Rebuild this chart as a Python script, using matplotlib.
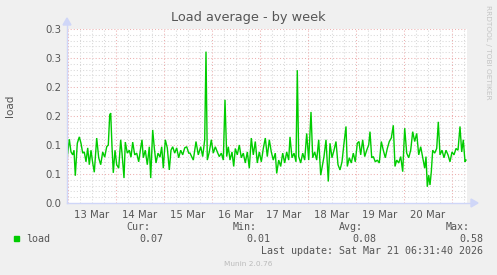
import matplotlib
matplotlib.use('Agg')
import matplotlib.pyplot as plt
from matplotlib.lines import Line2D
from matplotlib.patches import Polygon
import numpy as np

# ---- data (hours since 13 Mar 00:00, load values) ----
hours = [-0.65, 0.65, 1.5, 2.35, 3, 3.65, 4.65, 5.65, 6.5, 7.35, 8.15, 9, 9.85, 10.65, 11.5, 12.35,
         13.15, 14.35, 15.35, 16.35, 17.35, 18.35, 19.35, 20.15, 20.85, 21.35, 22, 22.65, 23.5, 24.35,
         25.35, 26.35, 27, 28, 28.65, 29.65, 30.65, 31.5, 32.35, 33.35, 34.35, 35.35, 36.35, 37, 37.65,
         38.65, 39.65, 40.65, 41.35, 42.35, 43.15, 44, 45, 46, 46.85, 47.65, 48.65, 49.65, 50.65, 51.5,
         52.35, 53.35, 54.35, 55.35, 56.35, 57.35, 58.35, 59.35, 60.35, 61, 62.65, 64, 65.15, 66.35,
         67.35, 68.35, 69, 69.65, 70.65, 71.65, 72.65, 73.65, 74.65, 75.65, 76.65, 77.65, 78.5, 79.35,
         80.15, 81, 82, 82.85, 83.65, 84.65, 85.65, 86.65, 87.65, 88.65, 89.65, 90.65, 91.65, 92.65,
         93.65, 94.65, 95.65, 96.65, 97.65, 98.65, 99.65, 100.65, 101.65, 102.65, 103.65, 104.35, 105.35,
         106.35, 107.35, 108.35, 109.35, 110.35, 111, 112, 113, 114, 114.65, 115.35, 116.35, 117.35,
         118.35, 119.35, 120.35, 121.5, 122.35, 123.35, 124.35, 125.35, 126.35, 128, 129, 130.15, 131,
         132, 133, 134, 135, 136, 137, 138, 139, 139.65, 140.65, 141.65, 142.65, 143.65, 144.65, 145.5,
         146.35, 147.35, 148.35, 149.35, 150.35, 151, 151.85, 152.65, 153.65, 154.65, 155.65, 156.65,
         157.65, 158.65, 159.65, 160.65, 161.65, 162.65, 163.5, 164.35, 165.35, 166.35, 167.35, 168.35,
         169.35, 170.35, 171.35, 172.35, 173.35, 174.35, 175.35, 176.35, 177.35, 178.35, 179, 179.65,
         180.35, 181, 181.65, 182.35, 183.35, 184.35, 185.15, 186, 187, 188, 189, 190, 191, 192, 193,
         194, 195, 196, 196.85, 197.65, 198.5, 199]
load = [0.071, 0.110, 0.088, 0.083, 0.091, 0.047, 0.103, 0.114, 0.103, 0.086, 0.088, 0.071, 0.095, 0.066,
        0.091, 0.069, 0.053, 0.112, 0.078, 0.066, 0.088, 0.079, 0.097, 0.100, 0.152, 0.155, 0.097, 0.052,
        0.091, 0.066, 0.060, 0.109, 0.086, 0.043, 0.105, 0.086, 0.091, 0.079, 0.105, 0.083, 0.086, 0.071,
        0.095, 0.109, 0.078, 0.091, 0.066, 0.097, 0.043, 0.126, 0.095, 0.069, 0.086, 0.079, 0.097, 0.060,
        0.109, 0.095, 0.057, 0.091, 0.097, 0.086, 0.095, 0.078, 0.091, 0.083, 0.095, 0.097, 0.086, 0.086,
        0.074, 0.106, 0.083, 0.097, 0.080, 0.109, 0.261, 0.074, 0.088, 0.109, 0.086, 0.097, 0.088, 0.080,
        0.086, 0.074, 0.178, 0.080, 0.097, 0.074, 0.088, 0.063, 0.094, 0.083, 0.100, 0.078, 0.086, 0.069,
        0.088, 0.060, 0.112, 0.083, 0.106, 0.069, 0.088, 0.071, 0.094, 0.112, 0.080, 0.109, 0.088, 0.074,
        0.086, 0.051, 0.074, 0.063, 0.086, 0.069, 0.088, 0.074, 0.114, 0.078, 0.086, 0.071, 0.229, 0.080,
        0.069, 0.086, 0.074, 0.120, 0.074, 0.157, 0.078, 0.088, 0.074, 0.109, 0.048, 0.080, 0.109, 0.037,
        0.103, 0.078, 0.091, 0.106, 0.066, 0.057, 0.071, 0.103, 0.132, 0.063, 0.078, 0.069, 0.086, 0.071,
        0.103, 0.106, 0.083, 0.109, 0.080, 0.091, 0.100, 0.123, 0.078, 0.080, 0.071, 0.074, 0.069, 0.106,
        0.091, 0.078, 0.094, 0.106, 0.112, 0.134, 0.063, 0.074, 0.069, 0.080, 0.054, 0.129, 0.086, 0.078,
        0.091, 0.123, 0.106, 0.120, 0.083, 0.097, 0.078, 0.060, 0.080, 0.028, 0.048, 0.031, 0.054, 0.091,
        0.086, 0.094, 0.140, 0.083, 0.091, 0.078, 0.091, 0.083, 0.071, 0.088, 0.083, 0.094, 0.091, 0.132,
        0.088, 0.109, 0.071, 0.074]

day_labels = ['13 Mar', '14 Mar', '15 Mar', '16 Mar', '17 Mar', '18 Mar', '19 Mar', '20 Mar']
y_ticks = [0.0, 0.05, 0.10, 0.15, 0.20, 0.25, 0.30]
y_tick_labels = ['0.0', '0.1', '0.1', '0.2', '0.2', '0.3', '0.3']
legend_name = 'load'
stats_names = ['Cur:', 'Min:', 'Avg:', 'Max:']
stats_values = ['0.07', '0.01', '0.08', '0.58']
title = 'Load average - by week'
last_update = 'Last update: Sat Mar 21 06:31:40 2026'

# ---- layout ----
W, H = 497, 275
BG = '#F0F0F0'
FONT = '#555555'
AXIS = '#CFD6F8'
GRID = '#D8D8D8'
MGRID = '#EDB0B0'
LINE = '#00CC00'

fig = plt.figure(figsize=(W / 100, H / 100), dpi=100, facecolor=BG)
L, T, R, B = 67, 29, 467, 203
ax = fig.add_axes([L / W, 1 - B / H, (R - L) / W, (B - T) / H])
ax.set_facecolor('white')
ax.set_xlim(-0.5, 199.5)
ax.set_ylim(0, 0.3)
for s in ax.spines.values():
    s.set_visible(False)

def fx(x):
    return x / W

def fy(y):
    return 1 - y / H

# grid
dot = (0, (1, 2))
for v in np.arange(1, 31):
    val = v * 0.01
    major = (v % 5 == 0)
    ax.axhline(val, color=MGRID if major else GRID, lw=0.75, ls=dot, zorder=1)
for h in range(0, 200, 6):
    major = (h % 24 == 0)
    ax.axvline(h, color=MGRID if major else GRID, lw=0.75, ls=dot, zorder=1)

ax.plot(hours, load, color=LINE, lw=1.0, zorder=3, solid_joinstyle='miter')

# ticks
ax.set_xticks([24 * i + 12 for i in range(len(day_labels))])
ax.set_xticklabels(day_labels)
ax.set_yticks(y_ticks)
ax.set_yticklabels(y_tick_labels)
ax.tick_params(length=0, labelsize=7.3, labelcolor=FONT, pad=4)
ax.tick_params(axis='x', pad=5)

# axes lines with arrows (light blue)
fig.add_artist(Line2D([fx(L), fx(472)], [fy(B), fy(B)], color=AXIS, lw=1.0))
fig.add_artist(Line2D([fx(L), fx(L)], [fy(B), fy(24)], color=AXIS, lw=1.0))
fig.add_artist(Polygon([(fx(471), fy(199)), (fx(478), fy(203)), (fx(471), fy(207))],
                       closed=True, color=AXIS, transform=fig.transFigure))
fig.add_artist(Polygon([(fx(63), fy(25)), (fx(67), fy(18)), (fx(71), fy(25))],
                       closed=True, color=AXIS, transform=fig.transFigure))

# title & labels
fig.text(fx(248), fy(18), title, ha='center', va='center', fontsize=9.3, color=FONT)
fig.text(fx(10), fy(106), 'load', rotation=90, ha='center', va='center', fontsize=7.5, color=FONT)
fig.text(fx(488), fy(52), 'RRDTOOL / TOBI OETIKER', rotation=270, ha='center', va='center',
         fontsize=5.3, color='#C4C4C4')

# legend
mono = 'DejaVu Sans Mono'
fs = 7.2
fig.add_artist(Polygon([(fx(14), fy(236)), (fx(19), fy(236)), (fx(19), fy(241)), (fx(14), fy(241))],
                       closed=True, color=LINE, transform=fig.transFigure))
fig.text(fx(26), fy(239), legend_name, family=mono, fontsize=fs, color=FONT, va='center', ha='left')
stat_right = [150, 257, 363, 470]
val_right = [163, 270, 376, 483]
for n, v, xr, xv in zip(stats_names, stats_values, stat_right, val_right):
    fig.text(fx(xr), fy(227), n, family=mono, fontsize=fs, color=FONT, va='center', ha='right')
    fig.text(fx(xv), fy(239), v, family=mono, fontsize=fs, color=FONT, va='center', ha='right')
fig.text(fx(483), fy(251), last_update, family=mono, fontsize=fs, color=FONT, va='center', ha='right')
fig.text(fx(248), fy(264), 'Munin 2.0.76', fontsize=5.3, color='#BBBBBB', ha='center', va='center')

fig.savefig('out.png', dpi=100, facecolor=BG)
